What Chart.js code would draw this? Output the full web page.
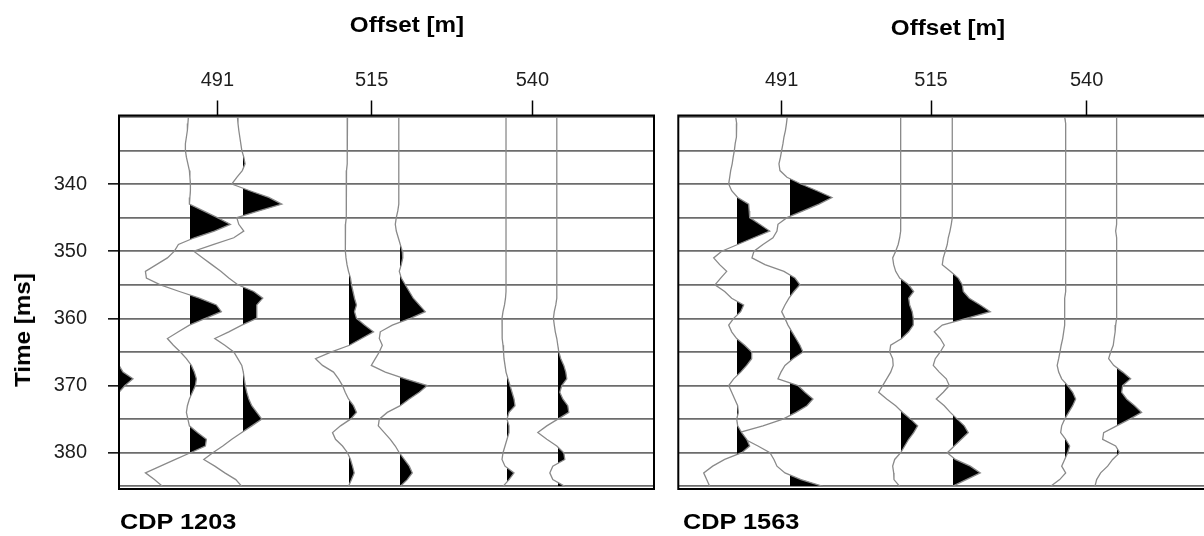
<!DOCTYPE html>
<html>
<head>
<meta charset="utf-8">
<script src="https://cdn.jsdelivr.net/npm/chart.js@4.4.1/dist/chart.umd.min.js"></script>
<style>
  html, body { margin: 0; padding: 0; background: #fff; overflow: hidden; width: 1204px; height: 536px; position: relative; }
  canvas { position: absolute; top: 0; }
  #cdpA { left: 0; }
  #cdpB { left: 660px; }
  .lbl { position: absolute; font-family: "Liberation Sans", Arial, sans-serif; font-weight: bold; color: #000; white-space: nowrap; }
  .ctr { transform: translate(-50%, -50%) scaleX(1.1); }
  .ylbl { transform: translate(-50%, -50%) rotate(-90deg) scaleX(1.1); }
  .cdp { transform: translateY(-50%) scaleX(1.15); transform-origin: left center; }
</style>
</head>
<body>
<canvas id="cdpA" width="670" height="536"></canvas>
<canvas id="cdpB" width="600" height="536"></canvas>
<div class="lbl ctr" style="left:407px; top:25px; font-size:22px;">Offset [m]</div>
<div class="lbl ctr" style="left:948px; top:28px; font-size:22px;">Offset [m]</div>
<div class="lbl ylbl" style="left:23px; top:330px; font-size:22px;">Time [ms]</div>
<div class="lbl cdp" style="left:120px; top:522px; font-size:22px;">CDP 1203</div>
<div class="lbl cdp" style="left:683px; top:522px; font-size:22px;">CDP 1563</div>
<script>
// Sample times of every trace (ms)
const times = [330, 331, 332, 333, 334, 335, 336, 337, 338, 339,
               340, 341, 342, 343, 344, 345, 346, 347, 348, 349,
               350, 351, 352, 353, 354, 355, 356, 357, 358, 359,
               360, 361, 362, 363, 364, 365, 366, 367, 368, 369,
               370, 371, 372, 373, 374, 375, 376, 377, 378, 379,
               380, 381, 382, 383, 384, 385];

// Axis ticks
const offsetTicks = [491, 515, 540];
const timeLabels = [340, 350, 360, 370, 380];
const timeGrid = [330, 335, 340, 345, 350, 355, 360, 365, 370, 375, 380, 385];

// CDP 1203: trace offsets (m) and amplitudes
const offsets1203 = [475.7, 486.65, 494.8, 511.4, 519.3, 535.9, 543.8];
const amp1203_0 = [0, 0, 0, 0, 0, 0, 0, 0, 0, 0,
                   0, 0, 0, 0, 0, 0, 0, 0, 0, 0,
                   0, 0, 0, 0, 0, 0, 0, 0, 0, 0,
                   0, 0, 0, 0, 0, 0, 0, 0, 4, 14,
                   6, 0, 0, 0, 0, 0, 0, 0, 0, 0,
                   0, 0, 0, 0, 0, 0];
const amp1203_1 = [-1, -1.5, -2, -3, -4, -4, -3, -1.5, 0, 0.5,
                   1, 1, 0.5, 0, 14, 28, 41, 25, 5, -11,
                   -15, -22, -33, -44, -43, -29, -10, 10, 27, 32,
                   16, 0, -11, -22, -16, -9, -3, 2, 5, 7,
                   6, 3, 0, -2, -3, -1.5, 0, 8, 17, 16,
                   1, -14, -29, -44, -35, -27];
const amp1203_2 = [-4.4, -3.8, -3, -2, -1, 0, 2, 3.3, 0.5, -5,
                   -10, 8, 27, 40, 17, -5, -3, 2, -8, -28,
                   -48, -39, -30, -21, -13, -4, 12, 21, 15, 15,
                   15, 0, -13, -27, -17, -8, -4, 0, 1.5, 2.5,
                   3.5, 5, 7, 10, 15, 20, 10, 0, -10, -19,
                   -29, -38, -27, -17, -6, 0];
const amp1203_3 = [-1, -1, -1, -1, -1.5, -1.5, -1.5, -1.5, -2, -2,
                   -2, -2, -2, -2.5, -2.5, -2.5, -3, -3, -3.3, -3.3,
                   -3, -2.5, -1.5, 0, 2, 3, 4.5, 6, 8, 6,
                   8, 16, 25, 13, 1, -17, -33, -26, -15, -10,
                   -6, -3.3, 0, 5, 8, 2, -8, -16, -13, -6,
                   -1, 2, 4, 5.7, 3, 0];
const amp1203_4 = [-0.5, -0.5, -0.5, -0.5, -0.5, -0.5, -0.5, -0.5, -0.5, -0.5,
                   -0.5, -0.5, -0.5, -0.5, -1.5, -3, -4, -3, -1, 1,
                   3, 3.5, 2, 0, 2, 6, 10, 14, 20, 26,
                   11, -7, -19, -20, -17, -20, -24, -28, -14, 6,
                   28, 20, 10, 1, -12, -20, -21, -15, -9, -4,
                   0, 5, 10, 13, 8, 1];
const amp1203_5 = [0, 0, 0, 0, 0, 0, 0, 0, 0, 0,
                   0, 0, 0, 0, 0, 0, 0, 0, 0, 0,
                   0, 0, 0, 0, 0, 0, 0, -0.5, -1.5, -3,
                   -4, -4, -4, -3.5, -3, -2.5, -2, -1, 0, 2,
                   4, 6, 8, 9, 3, 1, 3, 3, 1, -1,
                   -3, -4, -1, 8, 3, -3];
const amp1203_6 = [0, 0, 0, 0, 0, 0, 0, 0, 0, 0,
                   0, 0, 0, 0, 0, 0, 0, 0, 0, 0,
                   0, 0, 0, 0, 0, 0, 0, 0, -1, -2.5,
                   -3.4, -2.5, -1.5, 0, 1, 2, 4, 7, 9, 10,
                   5, 3, 6, 11, 12, 1, -10, -19, -10, 0,
                   7, 8, -4, -7, -4, 8];

// CDP 1563: trace offsets (m) and amplitudes
const offsets1563 = [483.77, 492.17, 510.12, 518.41, 536.47, 544.82];
const amp1563_1 = [-1, 0, 0, -0.5, -1.5, -2.3, -3.5, -4.5, -6, -7,
                   -8, -5, 1, 12, 12.5, 13, 23, 33, 17, 1,
                   -15, -23, -17, -10, -16, -21.7, -12, -5, 7, 4,
                   -3, -8, -5, 0, 8, 15, 15, 10, 4, -3,
                   -8, -5, -2, 1, 1.7, 0, 1, 5, 10, 13,
                   5, -12, -24, -33, -30, -27];
const amp1563_2 = [-1.7, -2.5, -3.5, -5, -6, -7.3, -8.5, -10, -9, -2,
                   12, 28, 43, 30, 14, -2, -11, -12, -16, -26,
                   -35, -37, -24, -5, 6, 11, 5, 0, -4, -7.3,
                   -4, -1, 3, 7, 11, 14, 4, -4, -8, -11,
                   9, 16, 24, 18, 7, -6, -26, -50, -44, -31,
                   -19, -15, -12, -4, 12, 34];
const amp1563_3 = [0, 0, 0, 0, 0, 0, 0, 0, 0, 0,
                   0, 0, 0, 0, 0, 0, 0, 0, -1, -2.5,
                   -5, -8, -7, -5, -1, 8, 13, 8, 9, 11.5,
                   12.6, 12.6, 8, 1, -10, -11, -8, -7.5, -10, -14,
                   -18, -22, -14, -5, 2, 10, 17, 13, 8, 4,
                   0, -6, -8, -7, -6.7, -1];
const amp1563_4 = [0, 0, 0, 0, 0, 0, 0, 0, 0, 0,
                   0, 0, 0, 0, 0, 0, -1, -2.3, -4, -5,
                   -7, -9, -10, -2, 6, 10, 11, 17, 28, 38,
                   14, -10, -18, -12, -8, -12, -17, -19, -13, -6,
                   -3, -9, -16, -8, -2, 5, 12, 16, 9, 2,
                   -5, 3, 18, 28, 14, 0];
const amp1563_5 = [0, 1, 1, 1, 1, 1, 1, 1, 1, 1,
                   1, 1, 1, 1, 1, 1, 1, 1, 1, 1,
                   1, 1, 1, 1, 1, 1, 1, 0, 0, 0,
                   0, 0, -1, -2, -3.5, -4.7, -6, -7.5, -6, -3,
                   3, 8, 11, 8, 4, 0, -3, -4, 1, 5,
                   3, 0, -3, 1, -5, -14];
const amp1563_6 = [0, 0, 0, 0, 0, 0, 0, 0, 0, 0,
                   0, 0, 0, 0, 0, 0, -0.5, -1, 0, 0,
                   0, 0, 0, 0, 0, 0, 0, 0, 0, 0,
                   0, -1, -1.5, -2.5, -3.4, -6, -8, -3, 6, 14,
                   6, 5, 10, 18, 25, 13, 0, -13, -14, -1,
                   3, -4, -9, -16, -20, -21.7];

const FONT = '"Liberation Sans", Arial, sans-serif';

// Black fill only on the positive (right-hand) side of a trace's zero line;
// the hard stop sits a hair right of the zero line so no seam shows on the left lobes
function positiveFill(chart, base) {
  const xs = chart.scales && chart.scales.x;
  if (!chart.chartArea || !xs) return '#000';
  const w = chart.width;
  const p = Math.min(Math.max((xs.getPixelForValue(base) + 0.8) / w, 0), 1);
  const g = chart.ctx.createLinearGradient(0, 0, w, 0);
  g.addColorStop(0, 'rgba(0,0,0,0)');
  g.addColorStop(p, 'rgba(0,0,0,0)');
  g.addColorStop(p, '#000');
  g.addColorStop(1, '#000');
  return g;
}

function wiggle(base, amps, gain) {
  return {
    data: times.map((t, i) => ({ x: base + amps[i] * gain, y: t })),
    borderColor: '#8a8a8a',
    borderWidth: 1.3,
    pointRadius: 0,
    tension: 0,
    fill: { value: base },
    backgroundColor: (ctx) => positiveFill(ctx.chart, base),
  };
}

// Frame around the plotting area
const frame = {
  id: 'frame',
  afterDatasetsDraw(chart) {
    const { ctx, chartArea: a } = chart;
    ctx.save();
    ctx.strokeStyle = '#000';
    ctx.lineWidth = 2;
    ctx.strokeRect(a.left, a.top, a.right - a.left, a.bottom - a.top);
    ctx.restore();
  }
};

function panel(id, offsets, ampSets, gain, xMin, xMax, showTime, pad, yWidth) {
  const datasets = offsets.map((o, i) => wiggle(o, ampSets[i], gain));
  return new Chart(document.getElementById(id), {
    type: 'line',
    data: { datasets },
    options: {
      responsive: false,
      animation: false,
      events: [],
      indexAxis: 'y',
      layout: { padding: pad },
      plugins: { legend: { display: false }, tooltip: { enabled: false } },
      scales: {
        x: {
          type: 'linear', position: 'top', min: xMin, max: xMax,
          afterBuildTicks: (s) => { s.ticks = offsetTicks.map(v => ({ value: v })); },
          afterFit: (s) => { s.height = 115.5; },
          border: { display: false },
          grid: { drawOnChartArea: false, drawTicks: true, tickLength: 15, tickColor: '#000', tickWidth: 1.5 },
          ticks: { font: { family: FONT, size: 20 }, color: '#1e1e1e', padding: 8, maxRotation: 0, autoSkip: false,
                   callback: (v) => String(v) }
        },
        y: {
          type: 'linear', position: 'left', reverse: true, min: 329.8, max: 385.4,
          afterBuildTicks: (s) => { s.ticks = timeGrid.map(v => ({ value: v })); },
          afterFit: (s) => { s.width = yWidth; },
          border: { display: false },
          grid: {
            color: '#6c6c6c', lineWidth: 1.7, drawTicks: showTime, tickLength: 11, tickWidth: 1.5,
            tickColor: (c) => (c.tick && timeLabels.includes(c.tick.value)) ? '#000' : 'rgba(0,0,0,0)'
          },
          ticks: { display: showTime, padding: 21, font: { family: FONT, size: 20 }, color: '#1e1e1e', autoSkip: false,
                   callback: (v) => timeLabels.includes(v) ? String(v) : '' }
        }
      }
    },
    plugins: [frame]
  });
}

panel('cdpA', offsets1203,
      [amp1203_0, amp1203_1, amp1203_2, amp1203_3, amp1203_4, amp1203_5, amp1203_6],
      0.1555, 475.7, 558.92, true,
      { left: 0, right: 16, top: 0, bottom: 47 }, 119);

panel('cdpB', offsets1563,
      [amp1563_1, amp1563_2, amp1563_3, amp1563_4, amp1563_5, amp1563_6],
      0.1607, 474.39, 560.35, false,
      { left: 18.3, right: 46.7, top: 0, bottom: 47 }, 0);
</script>
</body>
</html>
